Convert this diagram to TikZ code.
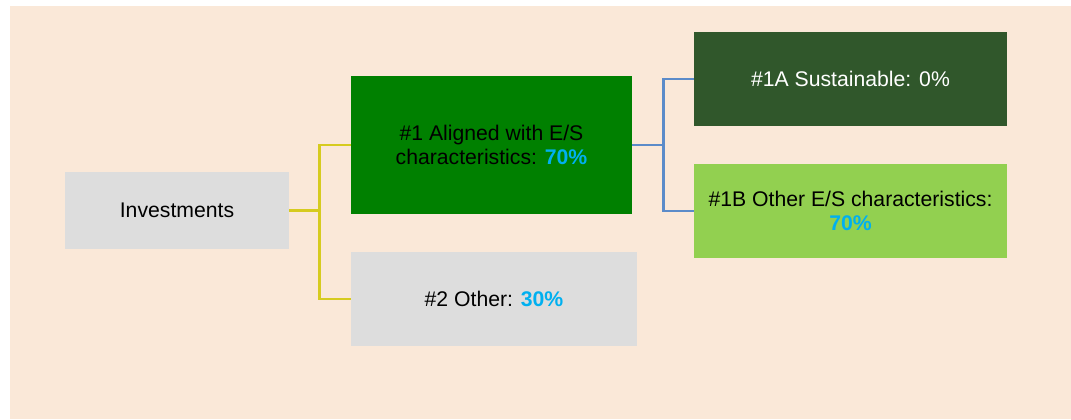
\documentclass[tikz,border=0pt]{standalone}
\usepackage{fontspec}
\setmainfont{Liberation Sans}
\usetikzlibrary{positioning}
\definecolor{PageBeige}{HTML}{FAE8D8}
\definecolor{BoxGrey}{HTML}{DDDDDD}
\definecolor{MidGreen}{HTML}{008000}
\definecolor{DarkGreen}{HTML}{30572B}
\definecolor{LightGreen}{HTML}{92D050}
\definecolor{PctBlue}{HTML}{00B0F0}
\definecolor{ForkYellow}{HTML}{D6CB1F}
\definecolor{ForkBlue}{HTML}{5B8BC9}
\newcommand{\pct}[1]{\textbf{\textcolor{PctBlue}{#1}}}

\begin{document}
\begin{tikzpicture}[x=0.5pt, y=-0.5pt,
    every node/.style={font=\fontsize{10.6}{12}\selectfont, align=center, inner sep=0pt},
    box/.style={minimum width=#1*0.5pt},
    greybox/.style={fill=BoxGrey, text=black},
    yline/.style={ForkYellow, line width=1.2pt},
    bline/.style={ForkBlue, line width=1.2pt}]
  \useasboundingbox (0,0) rectangle (1071,419);
  \fill[PageBeige] (10,6) rectangle (1071,419);

  % boxes
  \node[greybox, minimum width=112pt, minimum height=38.5pt] (Invest) at (177,210.5) {Investments};
  \node[fill=MidGreen, minimum width=140.5pt, minimum height=69pt] (Aligned) at (491.5,145)
    {\#1 Aligned with E/S\\characteristics: \pct{70\%}};
  \node[greybox, minimum width=143pt, minimum height=47pt] (Other) at (494,299)
    {\#2 Other: \pct{30\%}};
  \node[fill=DarkGreen, text=white, minimum width=156.5pt, minimum height=47pt] (Sust) at (850.5,79)
    {\#1A Sustainable: 0\%};
  \node[fill=LightGreen, minimum width=156.5pt, minimum height=47pt] (OtherES) at (850.5,211)
    {\#1B Other E/S characteristics:\\\pct{70\%}};

  % forks
  \draw[yline] (Invest.east) -- ++(30,0) coordinate (ySplit);
  \draw[yline] (Aligned.west) -| (ySplit) |- (Other.west);
  \draw[bline] (Aligned.east) -- ++(31,0) coordinate (bSplit);
  \draw[bline] (Sust.west) -| (bSplit) |- (OtherES.west);
\end{tikzpicture}
\end{document}
